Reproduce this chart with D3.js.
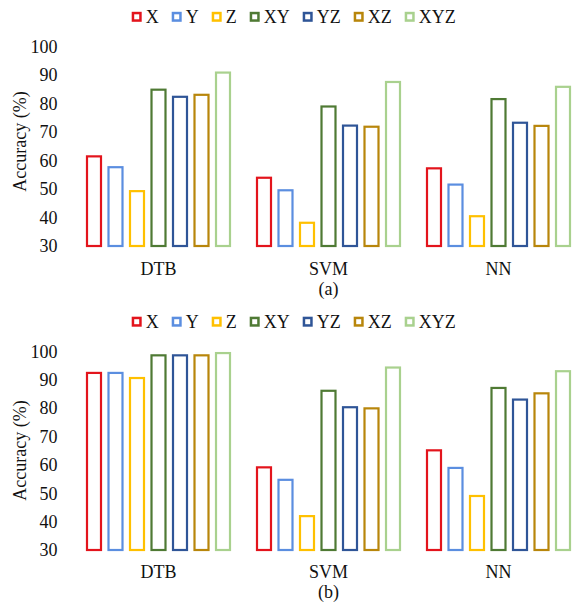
<!DOCTYPE html>
<html>
<head>
<meta charset="utf-8">
<script src="https://cdn.jsdelivr.net/npm/d3@7"></script>
</head>
<body style="margin:0;padding:0;background:#fff">
<svg id="chart" width="573" height="606"></svg>
<script>
// ---- data ----
const categories = ["DTB", "SVM", "NN"];
const series = ["X", "Y", "Z", "XY", "YZ", "XZ", "XYZ"];
const colors = ["#e3141c", "#5b8ee0", "#ffc000", "#4f7a34", "#2f5597", "#b8860b", "#a9d18e"];
const yTicks = [30, 40, 50, 60, 70, 80, 90, 100];
// panel (a): rows = categories, columns = series
const valuesA = [
  [61.8, 58.0, 49.6, 85.2, 82.7, 83.4, 91.2],
  [54.3, 49.9, 38.5, 79.3, 72.6, 72.2, 87.9],
  [57.6, 51.9, 40.8, 81.9, 73.6, 72.5, 86.2]
];
// panel (b)
const valuesB = [
  [92.8, 92.8, 91.0, 99.0, 99.0, 99.0, 99.8],
  [59.5, 55.1, 42.3, 86.5, 80.7, 80.3, 94.7],
  [65.5, 59.3, 49.4, 87.5, 83.4, 85.6, 93.4]
];
const panelLabels = ["(a)", "(b)"];
const yTitle = "Accuracy (%)";

// ---- layout ----
const FONT = '"Liberation Serif", monospace';
const fontSize = 18;
const svg = d3.select("#chart");
const panels = [
  { values: valuesA, label: panelLabels[0], top: 46.5, bottom: 246, legendY: 16.8, catY: 262, subY: 294.6, titleY: 141.5 },
  { values: valuesB, label: panelLabels[1], top: 351.5, bottom: 550, legendY: 321.7, catY: 565.5, subY: 598, titleY: 450.5 }
];

const x0 = d3.scaleBand().domain(categories).range([73.5, 583.5]).padding(0);
const x1 = d3.scaleBand().domain(series).range([12.5, 157.5]).paddingInner(0.256).paddingOuter(0);
const color = d3.scaleOrdinal().domain(series).range(colors);

function styleText(sel) {
  sel.attr("font-size", fontSize).style("font-family", FONT).style("fill", "#111");
}

panels.forEach(p => {
  const g = svg.append("g");
  const y = d3.scaleLinear().domain([30, 100]).range([p.bottom, p.top]);

  // y axis labels
  const ya = g.append("g").attr("transform", "translate(57.5,0)")
    .call(d3.axisLeft(y).tickValues(yTicks).tickSize(0).tickPadding(0));
  ya.select(".domain").remove();
  ya.selectAll("text").call(styleText);

  // y title
  g.append("text")
    .attr("transform", `translate(25.5,${p.titleY}) rotate(-90)`)
    .attr("text-anchor", "middle")
    .text(yTitle)
    .call(styleText);

  // bars
  const groups = g.selectAll("g.cat").data(categories).join("g")
    .attr("class", "cat")
    .attr("transform", d => `translate(${x0(d)},0)`);
  groups.selectAll("rect").data((c, i) => series.map((s, j) => ({ s, v: p.values[i][j] })))
    .join("rect")
    .attr("x", d => x1(d.s) + 1)
    .attr("width", x1.bandwidth() - 2)
    .attr("y", d => y(d.v) + 1)
    .attr("height", d => y(30) - y(d.v) - 1)
    .attr("fill", "#fff")
    .attr("stroke", d => color(d.s))
    .attr("stroke-width", 2.2);

  // category axis
  const xa = g.append("g").attr("transform", `translate(0,${p.catY})`)
    .call(d3.axisBottom(x0).tickSize(0).tickPadding(0));
  xa.select(".domain").remove();
  xa.selectAll("text").call(styleText);

  // sub label
  g.append("text")
    .attr("x", x0("SVM") + x0.bandwidth() / 2)
    .attr("y", p.subY)
    .attr("text-anchor", "middle")
    .text(p.label)
    .call(styleText);

  // legend
  const lg = g.append("g");
  const items = lg.selectAll("g").data(series).join("g");
  items.append("rect")
    .attr("x", 1.25).attr("y", p.legendY - 3.75)
    .attr("width", 7.5).attr("height", 7.5)
    .attr("fill", "#fff")
    .attr("stroke", d => color(d))
    .attr("stroke-width", 2.5);
  items.append("text")
    .attr("x", 14).attr("y", p.legendY + 6)
    .text(d => d)
    .call(styleText);
  let cx = 0;
  const gap = 13;
  items.each(function () {
    const w = d3.select(this).select("text").node().getComputedTextLength();
    d3.select(this).attr("transform", `translate(${cx},0)`);
    cx += 14 + w + gap;
  });
  const total = cx - gap;
  lg.attr("transform", `translate(${293.7 - total / 2},0)`);
});
</script>
</body>
</html>
